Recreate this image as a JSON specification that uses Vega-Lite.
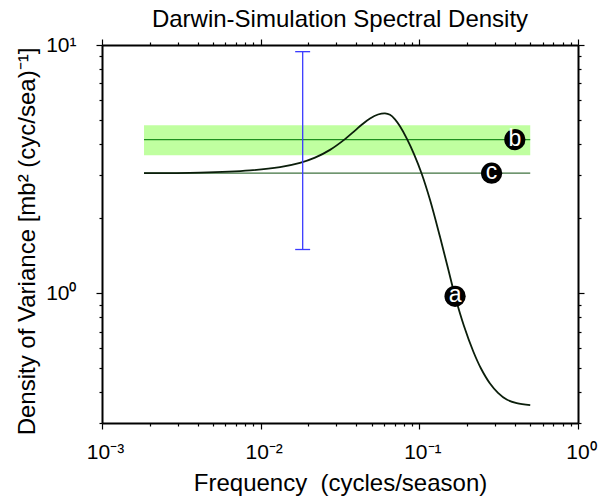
{
  "$schema": "https://vega.github.io/schema/vega-lite/v6.json",
  "width": 476,
  "height": 378,
  "autosize": "none",
  "padding": {"left": 102, "top": 45, "right": 28, "bottom": 73},
  "background": "white",
  "title": {
    "text": "Darwin-Simulation Spectral Density",
    "font": "Liberation Sans",
    "fontSize": 24,
    "fontWeight": "normal",
    "color": "black",
    "anchor": "middle",
    "baseline": "alphabetic",
    "offset": 11,
    "dy": 28
  },
  "config": {
    "view": {"stroke": null},
    "axis": {
      "grid": false,
      "labelFont": "Liberation Sans",
      "titleFont": "Liberation Sans",
      "labelColor": "black",
      "titleColor": "black",
      "titleFontWeight": "normal",
      "domainColor": "black",
      "domainWidth": 2,
      "tickColor": "black",
      "tickWidth": 1.2,
      "labelOverlap": false,
      "labelFlush": false
    }
  },
  "datasets": {
    "curve": [
      {"f": 0.00184, "s": 3.044},
      {"f": 0.004146, "s": 3.061},
      {"f": 0.008566, "s": 3.125},
      {"f": 0.013241, "s": 3.222},
      {"f": 0.017697, "s": 3.35},
      {"f": 0.021995, "s": 3.516},
      {"f": 0.027353, "s": 3.78},
      {"f": 0.034004, "s": 4.177},
      {"f": 0.039301, "s": 4.52},
      {"f": 0.043511, "s": 4.783},
      {"f": 0.048875, "s": 5.057},
      {"f": 0.054889, "s": 5.248},
      {"f": 0.060756, "s": 5.306},
      {"f": 0.06533, "s": 5.234},
      {"f": 0.070243, "s": 5.019},
      {"f": 0.075509, "s": 4.703},
      {"f": 0.083253, "s": 4.204},
      {"f": 0.092556, "s": 3.635},
      {"f": 0.10349, "s": 3.03},
      {"f": 0.11674, "s": 2.379},
      {"f": 0.13497, "s": 1.687},
      {"f": 0.15157, "s": 1.261},
      {"f": 0.16777, "s": 0.974},
      {"f": 0.19115, "s": 0.7375},
      {"f": 0.21883, "s": 0.5822},
      {"f": 0.24469, "s": 0.4973},
      {"f": 0.2788, "s": 0.4327},
      {"f": 0.31318, "s": 0.3969},
      {"f": 0.35531, "s": 0.3729},
      {"f": 0.41076, "s": 0.361},
      {"f": 0.5, "s": 0.3544}
    ],
    "band": [
      {"f1": 0.00184, "f2": 0.5, "lo": 3.6, "hi": 4.75}
    ],
    "hlines": [
      {"f1": 0.00184, "f2": 0.5, "s": 4.16, "line": "b"},
      {"f1": 0.00184, "f2": 0.5, "s": 3.044, "line": "c"}
    ],
    "errbar": [
      {"f": 0.0184, "f1": 0.0165, "f2": 0.0205, "lo": 1.5, "hi": 9.4}
    ],
    "markers": [
      {"f": 0.168, "s": 0.972, "label": "a"},
      {"f": 0.4, "s": 4.16, "label": "b"},
      {"f": 0.2855, "s": 3.044, "label": "c"}
    ]
  },
  "layer": [
    {
      "data": {"name": "band"},
      "mark": {"type": "rect", "color": "#c0ffa0"},
      "encoding": {
        "x": {
          "field": "f1", "type": "quantitative",
          "scale": {"type": "log", "domain": [0.001, 1], "nice": false},
          "axis": {
            "orient": "bottom",
            "values": [0.001,0.002,0.003,0.004,0.005,0.006,0.007,0.008,0.009,0.01,0.02,0.03,0.04,0.05,0.06,0.07,0.08,0.09,0.1,0.2,0.3,0.4,0.5,0.6,0.7,0.8,0.9,1],
            "labelExpr": "datum.value == 0.001 ? '10⁻³' : datum.value == 0.01 ? '10⁻²' : datum.value == 0.1 ? '10⁻¹' : datum.value == 1 ? '10⁰' : ''",
            "tickSize": {"condition": {"test": "datum.value == 0.001 || datum.value == 0.01 || datum.value == 0.1 || datum.value == 1", "value": 6}, "value": 3},
            "labelFontSize": 21,
            "labelPadding": 12,
            "labelOffset": 3,
            "title": "Frequency \u00a0(cycles/season)",
            "titleFontSize": 24,
            "titleBaseline": "alphabetic",
            "titleY": 67
          }
        },
        "x2": {"field": "f2"},
        "y": {
          "field": "lo", "type": "quantitative",
          "scale": {"type": "log", "domain": [0.3, 10], "nice": false},
          "axis": {
            "orient": "left",
            "values": [0.3,0.4,0.5,0.6,0.7,0.8,0.9,1,2,3,4,5,6,7,8,9,10],
            "labelExpr": "datum.value == 1 ? '10⁰' : datum.value == 10 ? '10¹' : ''",
            "tickSize": {"condition": {"test": "datum.value == 1 || datum.value == 10", "value": 6}, "value": 3},
            "labelFontSize": 21,
            "labelPadding": 20,
            "labelBaseline": "middle",
            "title": "Density of Variance [mb² (cyc/sea)⁻¹]",
            "titleFontSize": 24,
            "titleBaseline": "alphabetic",
            "titleAngle": -90,
            "titleAlign": "center",
            "titleX": -68,
            "titleY": 196
          }
        },
        "y2": {"field": "hi"}
      }
    },
    {
      "data": {"name": "hlines"},
      "mark": {"type": "rule", "strokeWidth": 1.2},
      "encoding": {
        "x": {
          "field": "f1", "type": "quantitative",
          "scale": {"type": "log", "domain": [0.001, 1], "nice": false},
          "axis": {
            "orient": "top",
            "values": [0.001,0.002,0.003,0.004,0.005,0.006,0.007,0.008,0.009,0.01,0.02,0.03,0.04,0.05,0.06,0.07,0.08,0.09,0.1,0.2,0.3,0.4,0.5,0.6,0.7,0.8,0.9,1],
            "labels": false,
            "title": null,
            "tickSize": {"condition": {"test": "datum.value == 0.001 || datum.value == 0.01 || datum.value == 0.1 || datum.value == 1", "value": 6}, "value": 3}
          }
        },
        "x2": {"field": "f2"},
        "y": {
          "field": "s", "type": "quantitative",
          "scale": {"type": "log", "domain": [0.3, 10], "nice": false},
          "axis": {
            "orient": "right",
            "values": [0.3,0.4,0.5,0.6,0.7,0.8,0.9,1,2,3,4,5,6,7,8,9,10],
            "labels": false,
            "title": null,
            "tickSize": {"condition": {"test": "datum.value == 1 || datum.value == 10", "value": 6}, "value": 3}
          }
        },
        "color": {
          "field": "line", "type": "nominal",
          "scale": {"domain": ["b", "c"], "range": ["#1e901e", "#3f723f"]},
          "legend": null
        }
      }
    },
    {
      "data": {"name": "curve"},
      "mark": {"type": "line", "interpolate": "catmull-rom", "color": "#0b1e0b", "strokeWidth": 1.8},
      "encoding": {
        "x": {"field": "f", "type": "quantitative", "axis": null},
        "y": {"field": "s", "type": "quantitative", "axis": null}
      }
    },
    {
      "data": {"name": "errbar"},
      "mark": {"type": "rule", "color": "#3b3bff", "strokeWidth": 1.3},
      "encoding": {
        "x": {"field": "f", "type": "quantitative", "axis": null},
        "y": {"field": "lo", "type": "quantitative", "axis": null},
        "y2": {"field": "hi"}
      }
    },
    {
      "data": {"name": "errbar"},
      "mark": {"type": "rule", "color": "#3b3bff", "strokeWidth": 1.3},
      "encoding": {
        "x": {"field": "f1", "type": "quantitative", "axis": null},
        "x2": {"field": "f2"},
        "y": {"field": "hi", "type": "quantitative", "axis": null}
      }
    },
    {
      "data": {"name": "errbar"},
      "mark": {"type": "rule", "color": "#3b3bff", "strokeWidth": 1.3},
      "encoding": {
        "x": {"field": "f1", "type": "quantitative", "axis": null},
        "x2": {"field": "f2"},
        "y": {"field": "lo", "type": "quantitative", "axis": null}
      }
    },
    {
      "data": {"name": "markers"},
      "mark": {"type": "point", "filled": true, "color": "black", "opacity": 1, "size": 450, "shape": "circle"},
      "encoding": {
        "x": {"field": "f", "type": "quantitative", "axis": null},
        "y": {"field": "s", "type": "quantitative", "axis": null}
      }
    },
    {
      "data": {"name": "markers"},
      "mark": {"type": "text", "color": "white", "font": "Liberation Sans", "fontSize": 23, "align": "center", "baseline": "middle", "dy": -1},
      "encoding": {
        "x": {"field": "f", "type": "quantitative", "axis": null},
        "y": {"field": "s", "type": "quantitative", "axis": null},
        "text": {"field": "label"}
      }
    }
  ],
  "resolve": {"axis": {"x": "independent", "y": "independent"}}
}
